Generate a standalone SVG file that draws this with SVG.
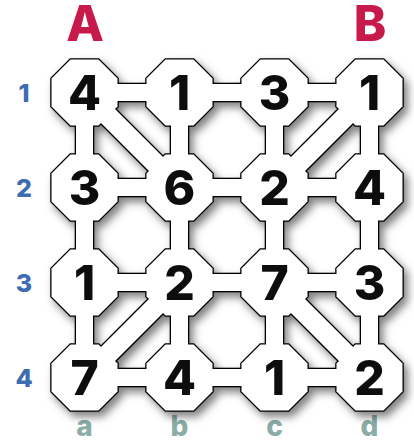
<svg xmlns="http://www.w3.org/2000/svg" xmlns:xlink="http://www.w3.org/1999/xlink" width="414" height="448" viewBox="0 0 414 448">
<style>
.num{font-family:Inter,"Liberation Sans",sans-serif;font-weight:800;font-size:48px;fill:#111;stroke:none;text-anchor:middle}
.big{font-family:Inter,"Liberation Sans",sans-serif;font-weight:800;font-size:49px;fill:#c8194b;text-anchor:middle}
.row{font-family:Inter,"Liberation Sans",sans-serif;font-weight:800;font-size:25px;fill:#3b6db0;text-anchor:middle}
.col{font-family:Inter,"Liberation Sans",sans-serif;font-weight:800;font-size:28px;fill:#8aaea6;text-anchor:middle}
</style>
<defs>
<polygon id="oct" points="-14,-33 14,-33 33,-14 33,14 14,33 -14,33 -33,14 -33,-14"/>
<filter id="sh" x="-10%" y="-10%" width="125%" height="125%">
<feDropShadow dx="4" dy="5" stdDeviation="4" flood-color="#000" flood-opacity="0.5"/>
</filter>
</defs>
<rect width="414" height="448" fill="#fff"/>
<text class="big" x="85" y="41">A</text>
<text class="big" x="370" y="41">B</text>
<text class="row" x="24" y="101.5">1</text>
<text class="row" x="24" y="196.5">2</text>
<text class="row" x="24" y="291.5">3</text>
<text class="row" x="24" y="386.5">4</text>
<text class="col" x="84.5" y="436">a</text>
<text class="col" x="179.5" y="436">b</text>
<text class="col" x="274.5" y="436">c</text>
<text class="col" x="369.5" y="436">d</text>
<g filter="url(#sh)">
<g id="outline" fill="#000" stroke="#000" stroke-width="2.6" stroke-linejoin="miter">
<use xlink:href="#connectors" href="#connectors"/>
<use xlink:href="#nodes" href="#nodes"/>
</g>
<g fill="#fff" stroke="none">
<g id="connectors">
<rect x="84.5" y="84" width="95" height="17"/>
<rect x="179.5" y="84" width="95" height="17"/>
<rect x="274.5" y="84" width="95" height="17"/>
<rect x="84.5" y="179" width="95" height="17"/>
<rect x="179.5" y="179" width="95" height="17"/>
<rect x="274.5" y="179" width="95" height="17"/>
<rect x="84.5" y="274" width="95" height="17"/>
<rect x="179.5" y="274" width="95" height="17"/>
<rect x="274.5" y="274" width="95" height="17"/>
<rect x="84.5" y="369" width="95" height="17"/>
<rect x="179.5" y="369" width="95" height="17"/>
<rect x="274.5" y="369" width="95" height="17"/>
<rect x="76" y="92.5" width="17" height="95"/>
<rect x="76" y="187.5" width="17" height="95"/>
<rect x="76" y="282.5" width="17" height="95"/>
<rect x="171" y="92.5" width="17" height="95"/>
<rect x="171" y="187.5" width="17" height="95"/>
<rect x="171" y="282.5" width="17" height="95"/>
<rect x="266" y="92.5" width="17" height="95"/>
<rect x="266" y="187.5" width="17" height="95"/>
<rect x="266" y="282.5" width="17" height="95"/>
<rect x="361" y="92.5" width="17" height="95"/>
<rect x="361" y="187.5" width="17" height="95"/>
<rect x="361" y="282.5" width="17" height="95"/>
<polygon points="91.57,85.43 186.57,180.43 172.43,194.57 77.43,99.57"/>
<polygon points="376.57,99.57 281.57,194.57 267.43,180.43 362.43,85.43"/>
<polygon points="186.57,289.57 91.57,384.57 77.43,370.43 172.43,275.43"/>
<polygon points="281.57,275.43 376.57,370.43 362.43,384.57 267.43,289.57"/>
</g>
<g id="nodes">
<g id="a1"><use href="#oct" xlink:href="#oct" x="84.5" y="92.5"/><text class="num" x="84.5" y="110">4</text></g>
<g id="b1"><use href="#oct" xlink:href="#oct" x="179.5" y="92.5"/><text class="num" x="179.5" y="110">1</text></g>
<g id="c1"><use href="#oct" xlink:href="#oct" x="274.5" y="92.5"/><text class="num" x="274.5" y="110">3</text></g>
<g id="d1"><use href="#oct" xlink:href="#oct" x="369.5" y="92.5"/><text class="num" x="369.5" y="110">1</text></g>
<g id="a2"><use href="#oct" xlink:href="#oct" x="84.5" y="187.5"/><text class="num" x="84.5" y="205">3</text></g>
<g id="b2"><use href="#oct" xlink:href="#oct" x="179.5" y="187.5"/><text class="num" x="179.5" y="205">6</text></g>
<g id="c2"><use href="#oct" xlink:href="#oct" x="274.5" y="187.5"/><text class="num" x="274.5" y="205">2</text></g>
<g id="d2"><use href="#oct" xlink:href="#oct" x="369.5" y="187.5"/><text class="num" x="369.5" y="205">4</text></g>
<g id="a3"><use href="#oct" xlink:href="#oct" x="84.5" y="282.5"/><text class="num" x="84.5" y="300">1</text></g>
<g id="b3"><use href="#oct" xlink:href="#oct" x="179.5" y="282.5"/><text class="num" x="179.5" y="300">2</text></g>
<g id="c3"><use href="#oct" xlink:href="#oct" x="274.5" y="282.5"/><text class="num" x="274.5" y="300">7</text></g>
<g id="d3"><use href="#oct" xlink:href="#oct" x="369.5" y="282.5"/><text class="num" x="369.5" y="300">3</text></g>
<g id="a4"><use href="#oct" xlink:href="#oct" x="84.5" y="377.5"/><text class="num" x="84.5" y="395">7</text></g>
<g id="b4"><use href="#oct" xlink:href="#oct" x="179.5" y="377.5"/><text class="num" x="179.5" y="395">4</text></g>
<g id="c4"><use href="#oct" xlink:href="#oct" x="274.5" y="377.5"/><text class="num" x="274.5" y="395">1</text></g>
<g id="d4"><use href="#oct" xlink:href="#oct" x="369.5" y="377.5"/><text class="num" x="369.5" y="395">2</text></g>
</g>
</g>
</g>
</svg>
